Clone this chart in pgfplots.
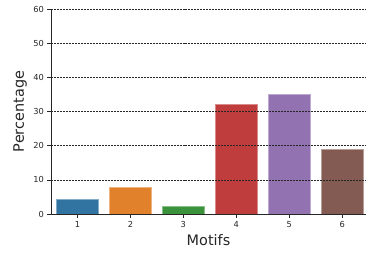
\documentclass[border=0pt]{standalone}
\usepackage{pgfplots}
\pgfplotsset{compat=1.18}
\usepackage{fontspec}
\setmainfont{DejaVu Sans}
\definecolor{c1}{HTML}{3274A1}
\definecolor{c2}{HTML}{E1812C}
\definecolor{c3}{HTML}{3A923A}
\definecolor{c4}{HTML}{C03D3E}
\definecolor{c5}{HTML}{9372B2}
\definecolor{c6}{HTML}{845B53}
\definecolor{txt}{HTML}{262626}
\begin{document}
\begin{tikzpicture}
\useasboundingbox (0,0) rectangle (368bp,254bp);
\begin{axis}[
  at={(51bp,40bp)}, anchor=south west,
  scale only axis, width=315bp, height=205bp,
  xmin=0.5, xmax=6.45, ymin=0, ymax=60,
  axis x line*=bottom, axis y line*=left,
  axis line style={draw=txt, line width=0.8pt, -},
  axis on top,
  xtick={1,2,3,4,5,6},
  ytick={0,10,20,30,40,50,60},
  tick align=outside, major tick length=3.5bp,
  tick style={draw=txt, line width=0.6pt},
  ymajorgrids, grid style={black!85, dash pattern=on 2pt off 1pt, line width=0.45pt},
  ticklabel style={font=\fontsize{8.3}{9}\selectfont, text=txt},
  /pgf/number format/assume math mode=true,
  xlabel={Motifs}, ylabel={Percentage},
  label style={font=\fontsize{14.5}{16}\selectfont, text=txt},
  xlabel style={at={(axis description cs:0.5,-0.127)}, anchor=center},
  ylabel style={at={(axis description cs:-0.0984,0.5)}, anchor=center},
  ybar, bar width=0.8, bar shift=0pt,
  clip=false,
]
\addplot[fill=c1, draw=c1!60!white, line width=0.4pt] coordinates {(1,4.2)};
\addplot[fill=c2, draw=c2!60!white, line width=0.4pt] coordinates {(2,7.7)};
\addplot[fill=c3, draw=c3!60!white, line width=0.4pt] coordinates {(3,2.3)};
\addplot[fill=c4, draw=c4!60!white, line width=0.4pt] coordinates {(4,32.2)};
\addplot[fill=c5, draw=c5!60!white, line width=0.4pt] coordinates {(5,35.2)};
\addplot[fill=c6, draw=c6!60!white, line width=0.4pt] coordinates {(6,19.1)};
\end{axis}
\end{tikzpicture}
\end{document}
